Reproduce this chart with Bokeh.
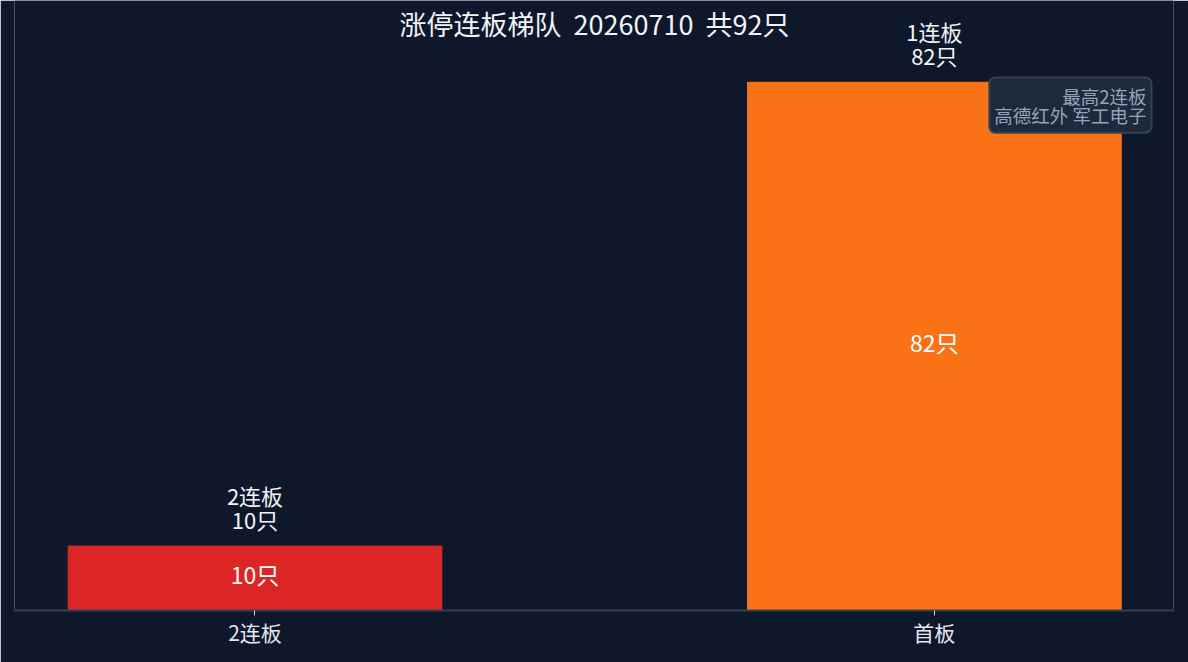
from bokeh.plotting import figure
from bokeh.models import ColumnDataSource, Label, Range1d, FixedTicker
from bokeh.core.properties import value
from bokeh.embed import file_html
from bokeh.resources import INLINE

categories = ["2连板", "首板"]
counts = [10, 82]
board_labels = ["2连板", "1连板"]
count_labels = ["10只", "82只"]
colors = ["#dc2626", "#f97316"]
title_text = "涨停连板梯队\u00a0\u00a020260710\u00a0\u00a0共92只"
note_text = "最高2连板\n高德红外 军工电子"

FONT = "Noto Sans CJK SC"
BG = "#0f172a"

xs = list(range(len(categories)))
src = ColumnDataSource(dict(
    x=xs, top=counts, color=colors, board=board_labels,
    cnt=count_labels, mid=[c / 2 for c in counts],
))

p = figure(width=1188, height=662, output_backend="svg", toolbar_location=None,
           x_range=Range1d(-0.354, 1.352), y_range=Range1d(0, 94.7),
           min_border_left=14, min_border_right=15, min_border_top=0,
           min_border_bottom=52, background_fill_color=BG,
           border_fill_color=BG, outline_line_color=None)

p.vbar(x="x", top="top", width=0.55, bottom=0, color="color", source=src)

common = dict(source=src, text_align="center", text_baseline="alphabetic",
              text_color="#f1f5f9", text_font=value(FONT), text_font_size="22px")
p.text(x="x", y="top", text="cnt", y_offset=-27, **common)
p.text(x="x", y="top", text="board", y_offset=-51, **common)

p.text(x="x", y="mid", text="cnt", source=src, text_align="center",
       text_baseline="middle", text_color="#ffffff", y_offset=-4,
       text_font=value(FONT), text_font_size="23px")

p.xaxis.ticker = FixedTicker(ticks=xs)
p.xaxis.major_label_overrides = {i: c for i, c in enumerate(categories)}
p.xaxis.major_label_text_font = FONT
p.xaxis.major_label_text_font_size = "21px"
p.xaxis.major_label_text_color = "#e2e8f0"
p.xaxis.axis_line_color = "#334155"
p.xaxis.axis_line_width = 2
p.xaxis.major_tick_line_color = "#cbd5e1"
p.xaxis.major_tick_in = 0
p.xaxis.major_tick_out = 5
p.xaxis.major_label_standoff = 1
p.xaxis.minor_tick_line_color = None
p.yaxis.visible = False
p.xgrid.grid_line_color = None
p.ygrid.grid_line_color = None

p.add_layout(Label(x=580, y=587, x_units="screen", y_units="screen",
                   text=title_text, text_align="center", text_baseline="middle",
                   text_font=FONT, text_font_size="27px", text_color="#f1f5f9"))

p.add_layout(Label(x=1137, y=533, x_units="screen", y_units="screen",
                   text=note_text, text_align="right", text_baseline="top",
                   text_font=FONT, text_font_size="18.5px", text_color="#94a3b8",
                   text_line_height=0.74,
                   background_fill_color="#1e293b", border_line_color="#334155",
                   border_line_width=2, border_radius=6, padding=5))

open("out.html", "w").write(file_html(p, INLINE))
